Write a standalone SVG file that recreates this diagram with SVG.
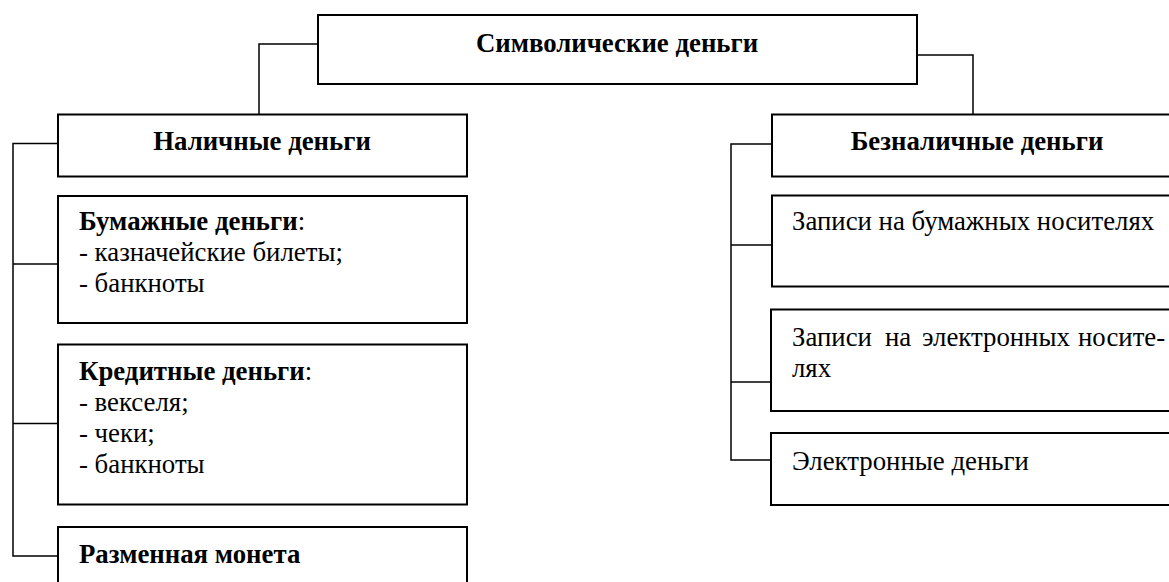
<svg xmlns="http://www.w3.org/2000/svg" width="1169" height="582" viewBox="0 0 1169 582">
<style>
.box{fill:#fff;stroke:#000;stroke-width:2}
.con{fill:none;stroke:#000;stroke-width:1.5}
text{font-family:"Liberation Serif","Times New Roman",serif;font-size:26.8px;fill:#000}
.b{font-weight:bold}
.c{text-anchor:middle}
</style>
<rect width="1169" height="582" fill="#fff"/>
<g id="connectors">
<polyline class="con" points="318,44 259,44 259,114"/>
<polyline class="con" points="917,55 973,55 973,114"/>
<polyline class="con" points="58,143.5 13,143.5 13,556 58,556"/>
<line class="con" x1="13" y1="264" x2="58" y2="264"/>
<line class="con" x1="13" y1="423.5" x2="58" y2="423.5"/>
<polyline class="con" points="772,144 731,144 731,460 771,460"/>
<line class="con" x1="731" y1="245" x2="772" y2="245"/>
<line class="con" x1="731" y1="382" x2="771" y2="382"/>
</g>
<g id="symbolic">
<rect class="box" x="318" y="15" width="599" height="69"/>
<text class="b c" x="617" y="52">Символические деньги</text>
</g>
<g id="cash">
<rect class="box" x="58" y="114.5" width="409" height="62"/>
<text class="b c" x="262" y="150">Наличные деньги</text>
</g>
<g id="paper">
<rect class="box" x="58" y="196" width="409" height="127"/>
<text x="79" y="230"><tspan class="b">Бумажные деньги</tspan>:</text>
<text x="79" y="261">- казначейские билеты;</text>
<text x="79" y="291.5">- банкноты</text>
</g>
<g id="credit">
<rect class="box" x="58" y="344.5" width="409" height="160"/>
<text x="79" y="380"><tspan class="b">Кредитные деньги</tspan>:</text>
<text x="79" y="411">- векселя;</text>
<text x="79" y="441.5">- чеки;</text>
<text x="79" y="472.5">- банкноты</text>
</g>
<g id="coin">
<rect class="box" x="58" y="527" width="409" height="70"/>
<text class="b" x="79" y="563">Разменная монета</text>
</g>
<g id="noncash">
<rect class="box" x="772" y="114.5" width="410" height="62"/>
<text class="b c" x="977" y="150">Безналичные деньги</text>
</g>
<g id="paper-records">
<rect class="box" x="772" y="195.5" width="410" height="91"/>
<text x="792" y="230">Записи на бумажных носителях</text>
</g>
<g id="electronic-records">
<rect class="box" x="771" y="309.5" width="411" height="101.5"/>
<text y="345.5"><tspan x="792">Записи</tspan><tspan x="885">на</tspan><tspan x="922">электронных</tspan><tspan x="1078">носите-</tspan></text>
<text x="792" y="377">лях</text>
</g>
<g id="e-money">
<rect class="box" x="771" y="433" width="411" height="72"/>
<text x="792" y="469.5">Электронные деньги</text>
</g>
</svg>
